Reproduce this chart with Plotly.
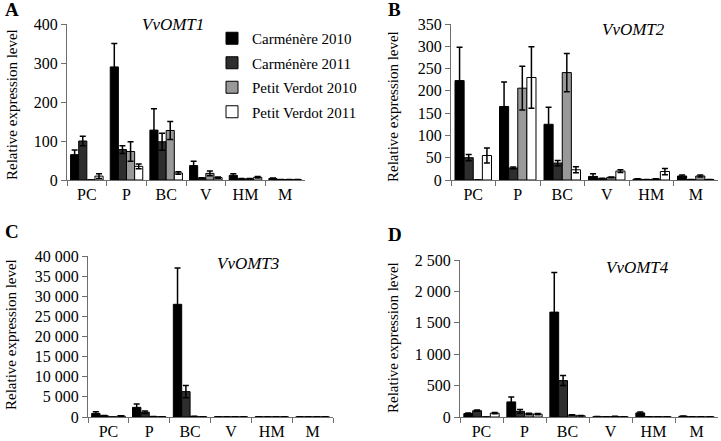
import plotly.graph_objects as go

categories = ["PC", "P", "BC", "V", "HM", "M"]
series_names = ["Carménère 2010", "Carménère 2011", "Petit Verdot 2010", "Petit Verdot 2011"]

# VvOMT1
omt1_c10 = [65, 290, 128, 37, 12, 4]
omt1_c10_err = [12, 60, 55, 11, 4, 1]
omt1_c11 = [100, 78, 98, 5, 3, 1]
omt1_c11_err = [12, 10, 22, 1, 1, 0]
omt1_pv10 = [0, 73, 127, 17, 3, 1]
omt1_pv10_err = [0, 25, 23, 6, 1, 0]
omt1_pv11 = [10, 35, 18, 6, 7, 1]
omt1_pv11_err = [6, 6, 3, 2, 2, 0]

# VvOMT2
omt2_c10 = [223, 165, 125, 8, 2, 9]
omt2_c10_err = [75, 55, 38, 6, 1, 2]
omt2_c11 = [50, 27, 38, 3, 1, 1]
omt2_c11_err = [7, 2, 6, 1, 0, 0]
omt2_pv10 = [0, 206, 241, 6, 2, 9]
omt2_pv10_err = [0, 49, 43, 1, 1, 2]
omt2_pv11 = [55, 230, 23, 20, 19, 1]
omt2_pv11_err = [17, 69, 7, 3, 7, 0]

# VvOMT3
omt3_c10 = [900, 2400, 28000, 30, 30, 30]
omt3_c10_err = [400, 800, 9000, 10, 10, 10]
omt3_c11 = [300, 1200, 6300, 30, 30, 30]
omt3_c11_err = [50, 300, 1500, 10, 10, 10]
omt3_pv10 = [0, 100, 150, 30, 30, 30]
omt3_pv10_err = [0, 20, 30, 10, 10, 10]
omt3_pv11 = [250, 50, 50, 30, 30, 30]
omt3_pv11_err = [50, 10, 10, 10, 10, 10]

# VvOMT4
omt4_c10 = [55, 240, 1670, 5, 65, 12]
omt4_c10_err = [10, 80, 630, 2, 15, 3]
omt4_c11 = [100, 90, 580, 3, 3, 3]
omt4_c11_err = [10, 30, 80, 1, 1, 1]
omt4_pv10 = [0, 50, 30, 8, 3, 2]
omt4_pv10_err = [0, 10, 5, 2, 1, 1]
omt4_pv11 = [60, 45, 20, 3, 3, 2]
omt4_pv11_err = [10, 10, 5, 1, 1, 1]

colors = ["#000000", "#2e2e2e", "#999999", "#ffffff"]
FONT = "Liberation Serif, Times New Roman, serif"

panels = [
    ([omt1_c10, omt1_c11, omt1_pv10, omt1_pv11],
     [omt1_c10_err, omt1_c11_err, omt1_pv10_err, omt1_pv11_err], "x", "y"),
    ([omt2_c10, omt2_c11, omt2_pv10, omt2_pv11],
     [omt2_c10_err, omt2_c11_err, omt2_pv10_err, omt2_pv11_err], "x2", "y2"),
    ([omt3_c10, omt3_c11, omt3_pv10, omt3_pv11],
     [omt3_c10_err, omt3_c11_err, omt3_pv10_err, omt3_pv11_err], "x3", "y3"),
    ([omt4_c10, omt4_c11, omt4_pv10, omt4_pv11],
     [omt4_c10_err, omt4_c11_err, omt4_pv10_err, omt4_pv11_err], "x4", "y4"),
]

fig = go.Figure()
for pi, (vals, errs, xa, ya) in enumerate(panels):
    for si in range(4):
        fig.add_trace(go.Bar(
            x=categories, y=vals[si], name=series_names[si],
            xaxis=xa, yaxis=ya, offsetgroup=str(si),
            marker=dict(color=colors[si], line=dict(color="#000000", width=1)),
            error_y=dict(type="data", array=errs[si], color="#000000",
                         thickness=1.5, width=3),
            showlegend=(pi == 0), legendgroup=series_names[si],
        ))

W, H = 721, 441
def px(x0, x1):
    return [x0 / W, x1 / W]
def py(ytop, ybot):
    return [1 - ybot / H, 1 - ytop / H]

axcommon = dict(showline=True, linecolor="#6e6e6e", linewidth=1,
                ticks="outside", tickcolor="#6e6e6e", ticklen=5,
                tickfont=dict(family=FONT, size=16, color="#000"),
                showgrid=False, zeroline=False, fixedrange=True)
xcommon = dict(axcommon, tickson="boundaries")

fig.update_layout(
    width=W, height=H, margin=dict(l=0, r=0, t=0, b=0, autoexpand=False),
    paper_bgcolor="white", plot_bgcolor="white",
    barmode="group", bargap=0.18, bargroupgap=0,
    separators=". ",
    font=dict(family=FONT, color="#000"),
    xaxis=dict(xcommon, domain=px(67, 305), anchor="y"),
    yaxis=dict(axcommon, domain=py(24, 180), range=[0, 400], dtick=100, anchor="x"),
    xaxis2=dict(xcommon, domain=px(451, 718), anchor="y2"),
    yaxis2=dict(axcommon, domain=py(24, 180), range=[0, 350], dtick=50, anchor="x2"),
    xaxis3=dict(xcommon, domain=px(88, 333), anchor="y3"),
    yaxis3=dict(axcommon, domain=py(256, 417), range=[0, 40000], dtick=5000,
                tickformat=",d", anchor="x3"),
    xaxis4=dict(xcommon, domain=px(460, 718), anchor="y4"),
    yaxis4=dict(axcommon, domain=py(260, 417), range=[0, 2500], dtick=500,
                tickformat=",d", anchor="x4"),
    legend=dict(x=212 / W, y=1 - 22 / H, xanchor="left", yanchor="top",
                bgcolor="rgba(0,0,0,0)", font=dict(family=FONT, size=15),
                traceorder="grouped", itemwidth=30, tracegroupgap=2),
)

annots = []
for letter, x, y in [("A", 3, 10), ("B", 386, 10), ("C", 3, 232), ("D", 386, 234)]:
    annots.append(dict(text="<b>%s</b>" % letter, x=x / W, y=1 - y / H, xref="paper", yref="paper",
                       xanchor="left", yanchor="middle", showarrow=False,
                       font=dict(family=FONT, size=19)))
for gene, x, y in [("VvOMT1", 173, 25), ("VvOMT2", 633, 30), ("VvOMT3", 248, 263), ("VvOMT4", 637, 267)]:
    annots.append(dict(text="<i>%s</i>" % gene, x=x / W, y=1 - y / H, xref="paper", yref="paper",
                       xanchor="center", yanchor="middle", showarrow=False,
                       font=dict(family=FONT, size=17)))
for x, y in [(12, 105), (393, 107), (11, 335), (393, 338)]:
    annots.append(dict(text="Relative expression level", x=x / W, y=1 - y / H, xref="paper", yref="paper",
                       xanchor="center", yanchor="middle", showarrow=False, textangle=-90,
                       font=dict(family=FONT, size=15)))
fig.update_layout(annotations=annots)

fig.write_html("out.html", config={"displayModeBar": False},
               post_script="document.body.style.margin='0';document.body.style.overflow='hidden';")
